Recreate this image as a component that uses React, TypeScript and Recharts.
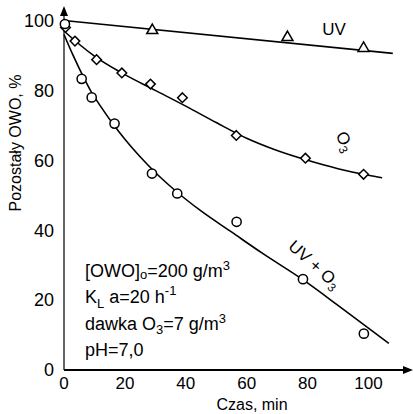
import {
  ComposedChart,
  Line,
  Scatter,
  XAxis,
  YAxis,
} from 'recharts';

// measured points (time in min, remaining OWO in %)
const uvTime = [29, 73.4, 98.4];
const uvValues = [97.4, 95.4, 92.3];

const o3Time = [0.5, 3.6, 10.7, 19, 28.4, 38.9, 56.6, 79.3, 98.4];
const o3Values = [98, 94.1, 88.8, 85, 81.8, 77.9, 67.1, 60.6, 56];

const uvO3Time = [0.3, 5.8, 9.1, 16.6, 28.9, 37.2, 56.7, 78.5, 98.5];
const uvO3Values = [99, 83.3, 78, 70.5, 56.2, 50.5, 42.4, 26, 10.4];

// fitted curves
const uvFitTime = [0, 108];
const uvFitValues = [100, 90.6];

const o3FitTime = [0, 5, 10, 20, 30, 40, 50, 60, 70, 80, 90, 100, 104.5];
const o3FitValues = [97, 93.2, 89.8, 84.5, 80, 75.5, 70.8, 66.3, 62.8, 60, 57.6, 55.7, 55];

const uvO3FitTime = [0, 3, 6, 9, 12, 16, 20, 25, 30, 37, 45, 55, 65, 78.7, 90, 100, 106.7];
const uvO3FitValues = [96, 90, 84.5, 79.5, 75.5, 70.5, 66, 61, 56.5, 51, 45.5, 39.5, 33.5, 25.7, 18.5, 12, 7.6];

const xTicks = [0, 20, 40, 60, 80, 100];
const yTicks = [0, 20, 40, 60, 80, 100];

// axis ends (arrow heads)
const xMax = 113;
const yMax = 103;

const font = '"Liberation Sans", Arial, sans-serif';

const toPoints = (xs: number[], ys: number[]) =>
  xs.map((x, i) => ({ x, y: ys[i] }));

const TriangleDot = (props: any) => {
  const { cx, cy } = props;
  return (
    <polygon
      points={`${cx},${cy - 5.5} ${cx + 5.5},${cy + 4} ${cx - 5.5},${cy + 4}`}
      fill="#fff"
      stroke="#000"
      strokeWidth={1.5}
    />
  );
};

const DiamondDot = (props: any) => {
  const { cx, cy } = props;
  return (
    <polygon
      points={`${cx},${cy - 4.8} ${cx + 4.8},${cy} ${cx},${cy + 4.8} ${cx - 4.8},${cy}`}
      fill="#fff"
      stroke="#000"
      strokeWidth={1.5}
    />
  );
};

const CircleDot = (props: any) => {
  const { cx, cy } = props;
  return <circle cx={cx} cy={cy} r={4.6} fill="#fff" stroke="#000" strokeWidth={1.5} />;
};

const UpArrow = (props: any) => {
  const { cx, cy } = props;
  return <polygon points={`${cx},${cy - 4} ${cx - 4},${cy + 6} ${cx + 4},${cy + 6}`} fill="#000" />;
};

const RightArrow = (props: any) => {
  const { cx, cy } = props;
  return <polygon points={`${cx + 5},${cy} ${cx - 5},${cy - 4} ${cx - 5},${cy + 4}`} fill="#000" />;
};

export default function App() {
  return (
    <div style={{ position: 'absolute', left: 0, top: 0, width: 413, height: 414, background: '#fff' }}>
      <ComposedChart
        width={413}
        height={414}
        margin={{ top: 10, right: 5, bottom: 0, left: 0 }}
      >
        <XAxis
          type="number"
          dataKey="x"
          domain={[0, xMax]}
          ticks={xTicks}
          height={44}
          tickLine={false}
          tickMargin={1}
          axisLine={{ stroke: '#000', strokeWidth: 2 }}
          tick={{ fill: '#000', fontSize: 17, fontFamily: font }}
        />
        <YAxis
          type="number"
          dataKey="y"
          domain={[0, yMax]}
          ticks={yTicks}
          width={64}
          tickLine={false}
          tickMargin={4}
          axisLine={{ stroke: '#000', strokeWidth: 1.2 }}
          tick={{ fill: '#000', fontSize: 18, fontFamily: font }}
        />
        <Line
          data={toPoints(uvFitTime, uvFitValues)}
          dataKey="y"
          type="linear"
          stroke="#000"
          strokeWidth={1.6}
          dot={false}
          activeDot={false}
          isAnimationActive={false}
        />
        <Line
          data={toPoints(o3FitTime, o3FitValues)}
          dataKey="y"
          type="monotone"
          stroke="#000"
          strokeWidth={1.6}
          dot={false}
          activeDot={false}
          isAnimationActive={false}
        />
        <Line
          data={toPoints(uvO3FitTime, uvO3FitValues)}
          dataKey="y"
          type="monotone"
          stroke="#000"
          strokeWidth={1.6}
          dot={false}
          activeDot={false}
          isAnimationActive={false}
        />
        <Scatter data={toPoints(uvTime, uvValues)} shape={TriangleDot} isAnimationActive={false} />
        <Scatter data={toPoints(o3Time, o3Values)} shape={DiamondDot} isAnimationActive={false} />
        <Scatter data={toPoints(uvO3Time, uvO3Values)} shape={CircleDot} isAnimationActive={false} />
        <Scatter data={[{ x: 0, y: yMax }]} shape={UpArrow} isAnimationActive={false} />
        <Scatter data={[{ x: xMax, y: 0 }]} shape={RightArrow} isAnimationActive={false} />
      </ComposedChart>
      <svg
        width={413}
        height={414}
        style={{ position: 'absolute', left: 0, top: 0, pointerEvents: 'none' }}
        fontFamily={font}
        fill="#000"
      >
        <text x={15} y={143} fontSize={16} textAnchor="middle" dominantBaseline="central" transform="rotate(-90 15 143)">
          Pozostały OWO, %
        </text>
        <text x={252} y={410} fontSize={16} textAnchor="middle">
          Czas, min
        </text>
        <text x={334} y={35} fontSize={17} textAnchor="middle">
          UV
        </text>
        <text x={340} y={144} fontSize={17} textAnchor="middle" transform="rotate(62 340 144)">
          O<tspan fontSize={12} dy={4}>3</tspan>
        </text>
        <text x={314} y={270} fontSize={17} textAnchor="middle" transform="rotate(42 314 265)">
          UV + O<tspan fontSize={12} dy={4}>3</tspan>
        </text>
        <g fontSize={18}>
          <text x={85} y={277}>
            [OWO]<tspan fontSize={13} dy={2}>o</tspan>
            <tspan dy={-2}>=200 g/m</tspan>
            <tspan fontSize={13} dy={-7}>3</tspan>
          </text>
          <text x={85} y={303}>
            K<tspan fontSize={13} dy={5}>L</tspan>
            <tspan dy={-5}> a=20 h</tspan>
            <tspan fontSize={13} dy={-8}>-1</tspan>
          </text>
          <text x={85} y={330}>
            dawka O<tspan fontSize={13} dy={4}>3</tspan>
            <tspan dy={-4}>=7 g/m</tspan>
            <tspan fontSize={13} dy={-7}>3</tspan>
          </text>
          <text x={85} y={356}>pH=7,0</text>
        </g>
      </svg>
    </div>
  );
}
